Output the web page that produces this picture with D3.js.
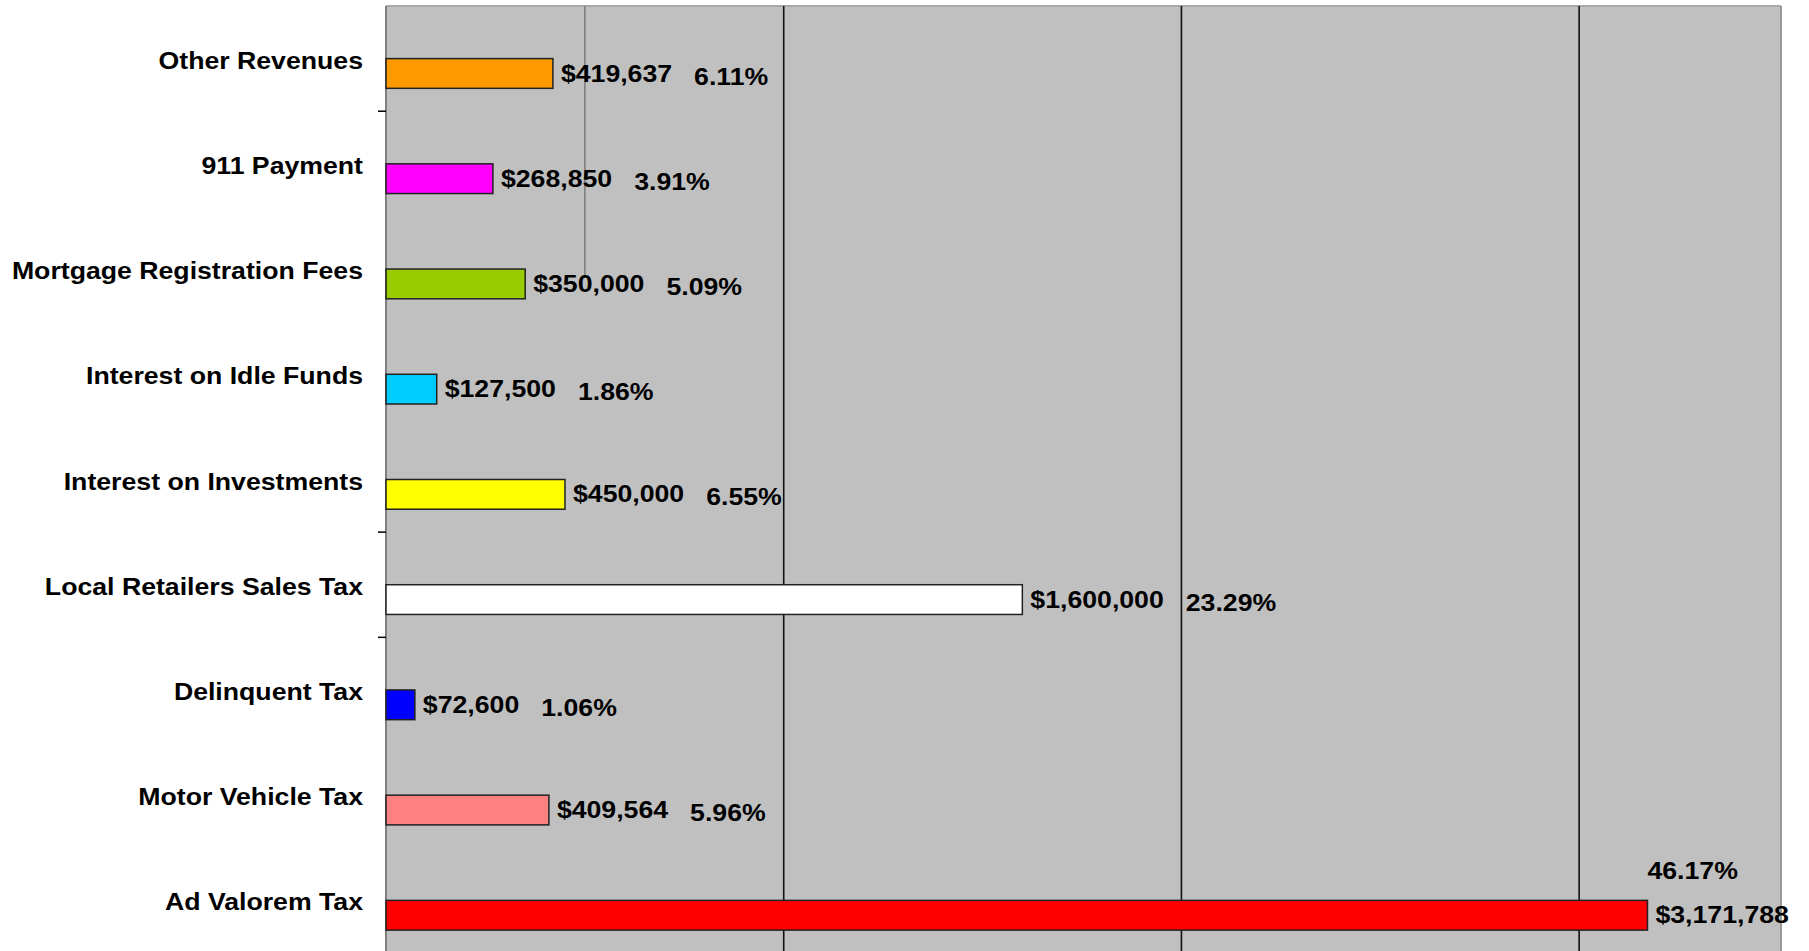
<!DOCTYPE html>
<html>
<head>
<meta charset="utf-8">
<script src="https://cdn.jsdelivr.net/npm/d3@7"></script>
<style>
  body { margin: 0; background: #fff; }
  text { font-family: "Liberation Sans", Arial, sans-serif; font-weight: bold; fill: #000; }
</style>
</head>
<body>
<script>
// revenue categories, top to bottom
const categories = [
  "Other Revenues", "911 Payment", "Mortgage Registration Fees",
  "Interest on Idle Funds", "Interest on Investments", "Local Retailers Sales Tax",
  "Delinquent Tax", "Motor Vehicle Tax", "Ad Valorem Tax"
];
const amounts = [419637, 268850, 350000, 127500, 450000, 1600000, 72600, 409564, 3171788];
const percents = ["6.11%", "3.91%", "5.09%", "1.86%", "6.55%", "23.29%", "1.06%", "5.96%", "46.17%"];
const barColors = ["#FF9900", "#FF00FF", "#99CC00", "#00CCFF", "#FFFF00", "#FFFFFF", "#0000FF", "#FF8080", "#FF0000"];
const gridValues = [1000000, 2000000, 3000000];
// only these category boundaries show a tick in the original
const tickAfter = ["Other Revenues", "Interest on Investments", "Local Retailers Sales Tax"];

const margin = { top: 6, right: 31, bottom: -2, left: 386 };
const totalWidth = 1809;
const totalHeight = 951;
const width = totalWidth - margin.left - margin.right;
const height = totalHeight - margin.top - margin.bottom;
const stretch = 1.16; // text in the picture is drawn wide

const svg = d3.select("body")
  .append("svg")
  .attr("width", totalWidth)
  .attr("height", totalHeight)
  .append("g")
  .attr("transform", `translate(${margin.left}, ${margin.top})`);

const x = d3.scaleLinear().domain([0, 3500000]).range([0, width]);
const y = d3.scaleBand().domain(categories).range([0, height]);
// two slots per category like the source spreadsheet; bars sit in the second one
const slot = d3.scaleBand().domain(["blank", "value"]).range([0, y.bandwidth()]).paddingOuter(0.77);

const data = categories.map((c, i) => ({ cat: c, amt: amounts[i], pct: percents[i], color: barColors[i] }));

// plot area
svg.append("rect")
  .attr("x", 0).attr("y", 0)
  .attr("width", width + 3).attr("height", height)
  .attr("fill", "#C0C0C0");

svg.append("line")
  .attr("x1", 0).attr("x2", width + 3).attr("y1", 0).attr("y2", 0)
  .attr("stroke", "#a8a8a8").attr("stroke-width", 2);
svg.append("line")
  .attr("x1", width + 3).attr("x2", width + 3).attr("y1", 0).attr("y2", height)
  .attr("stroke", "#999").attr("stroke-width", 2);

svg.selectAll(".grid")
  .data(gridValues)
  .enter()
  .append("line")
  .attr("x1", d => x(d)).attr("x2", d => x(d))
  .attr("y1", 0).attr("y2", height)
  .attr("stroke", "#111").attr("stroke-width", 1.6);

// stray thin line from the scan
svg.append("line")
  .attr("x1", x(500000)).attr("x2", x(500000))
  .attr("y1", 0).attr("y2", 272)
  .attr("stroke", "#7a7a7a").attr("stroke-width", 1.5);

// category axis
svg.append("line")
  .attr("x1", 0).attr("x2", 0).attr("y1", 0).attr("y2", height)
  .attr("stroke", "#808080").attr("stroke-width", 2);

svg.selectAll(".tick-mark")
  .data(tickAfter)
  .enter()
  .append("line")
  .attr("x1", -8).attr("x2", 0)
  .attr("y1", d => y(d) + y.bandwidth())
  .attr("y2", d => y(d) + y.bandwidth())
  .attr("stroke", "#000").attr("stroke-width", 1.5);

svg.selectAll(".cat")
  .data(categories)
  .enter()
  .append("text")
  .attr("transform", d => `translate(-23, ${y(d) + y.bandwidth() / 2 + 2}) scale(${stretch},1)`)
  .attr("dy", "0.35em")
  .attr("text-anchor", "end")
  .style("font-size", "23px")
  .text(d => d);

// bars
svg.selectAll(".bar")
  .data(data)
  .enter()
  .append("rect")
  .attr("x", 0)
  .attr("y", d => y(d.cat) + slot("value"))
  .attr("width", d => x(d.amt))
  .attr("height", slot.bandwidth())
  .attr("fill", d => d.color)
  .attr("stroke", "#222")
  .attr("stroke-width", 1.5);

const fmt = d3.format("$,");
const barMid = d => y(d.cat) + slot("value") + slot.bandwidth() / 2;

const valueLabels = svg.selectAll(".val")
  .data(data)
  .enter()
  .append("text")
  .attr("transform", d => `translate(${x(d.amt) + 8}, ${barMid(d)}) scale(${stretch},1)`)
  .attr("dy", "0.35em")
  .style("font-size", "23px")
  .text(d => fmt(d.amt));

valueLabels.each(function(d) {
  const w = this.getComputedTextLength() * stretch;
  let px = x(d.amt) + 8 + w + 22;
  let py = barMid(d) + 3;
  // no room on the right: put the share above the amount
  if (px + 80 > width) {
    px = x(d.amt);
    py = barMid(d) - 44;
  }
  svg.append("text")
    .attr("transform", `translate(${px}, ${py}) scale(${stretch},1)`)
    .attr("dy", "0.35em")
    .style("font-size", "23px")
    .text(d.pct);
});
</script>
</body>
</html>
